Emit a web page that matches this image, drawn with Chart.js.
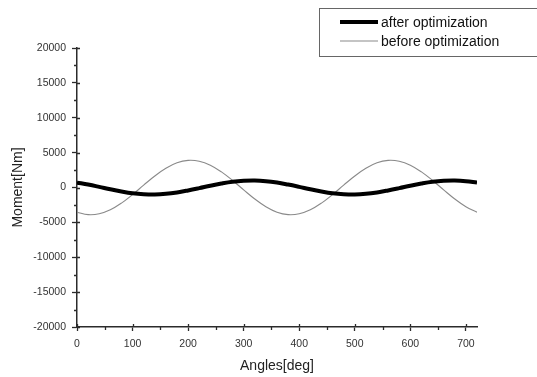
<!DOCTYPE html>
<html>
<head>
<meta charset="utf-8">
<title>Moment vs angle</title>
<script src="https://cdn.jsdelivr.net/npm/chart.js@4.4.1/dist/chart.umd.min.js"></script>
<style>
  html, body { margin: 0; padding: 0; background: #fff; }
  #wrap { width: 537px; height: 377px; }
</style>
</head>
<body>
<div id="wrap"><canvas id="moment-chart" width="537" height="377"></canvas></div>
<script>
// Crank angle samples (deg)
const angles = [0, 20, 40, 60, 80, 100, 120, 140, 160, 180, 200, 220, 240, 260, 280, 300, 320, 340, 360,
  380, 400, 420, 440, 460, 480, 500, 520, 540, 560, 580, 600, 620, 640, 660, 680, 700, 720];

// Moment after optimization (Nm)
const afterOpt = [700, 420, 90, -260, -570, -820, -960, -1000, -910, -710, -420, -90, 260, 570, 820, 960, 1000, 910, 710,
  420, 90, -260, -570, -820, -960, -1000, -910, -710, -420, -90, 260, 570, 820, 960, 1000, 910, 700];

// Moment before optimization (Nm)
const beforeOpt = [-3540, -3890, -3770, -3200, -2240, -1010, 340, 1650, 2760, 3540, 3890, 3770, 3200, 2240, 1010, -340, -1650, -2760, -3540,
  -3890, -3770, -3200, -2240, -1010, 340, 1650, 2760, 3540, 3890, 3770, 3200, 2240, 1010, -340, -1650, -2760, -3540];

const seriesNames = ['after optimization', 'before optimization'];

// Axis ticks: majors get labels, the in-between ones are minor marks
const xTicks = [0, 50, 100, 150, 200, 250, 300, 350, 400, 450, 500, 550, 600, 650, 700];
const xMajor = [0, 100, 200, 300, 400, 500, 600, 700];
const yTicks = [-20000, -17500, -15000, -12500, -10000, -7500, -5000, -2500, 0, 2500, 5000, 7500, 10000, 12500, 15000, 17500, 20000];
const yMajor = [-20000, -15000, -10000, -5000, 0, 5000, 10000, 15000, 20000];

const FONT = "'Liberation Sans', Arial, Helvetica, sans-serif";
const AXIS_COLOR = '#2b2b2b';

function isMajor(scale, v) {
  return (scale.axis === 'x' ? xMajor : yMajor).includes(v);
}

// short minor ticks plus the inner half of the major ticks
const tickMarks = {
  id: 'tickMarks',
  afterDraw(chart) {
    const ctx = chart.ctx;
    const xs = chart.scales.x, ys = chart.scales.y;
    ctx.save();
    ctx.strokeStyle = AXIS_COLOR;
    ctx.lineWidth = 1.3;
    ctx.beginPath();
    xTicks.forEach(v => {
      const px = Math.round(xs.getPixelForValue(v)) + 0.5;
      const y0 = ys.bottom;
      if (isMajor(xs, v)) { ctx.moveTo(px, y0); ctx.lineTo(px, y0 - 3); }
      else { ctx.moveTo(px, y0); ctx.lineTo(px, y0 + 3); }
    });
    yTicks.forEach(v => {
      const py = Math.round(ys.getPixelForValue(v)) + 0.5;
      const x0 = xs.left;
      if (isMajor(ys, v)) { ctx.moveTo(x0, py); ctx.lineTo(x0 + 3, py); }
      else { ctx.moveTo(x0, py); ctx.lineTo(x0 - 3, py); }
    });
    ctx.stroke();
    ctx.restore();
  }
};

// boxed legend in the upper right corner
const boxLegend = {
  id: 'boxLegend',
  afterDraw(chart) {
    const ctx = chart.ctx;
    ctx.save();
    ctx.strokeStyle = '#666';
    ctx.lineWidth = 1;
    ctx.strokeRect(319.5, 8.5, 240, 48);
    ctx.font = '14px ' + FONT;
    ctx.fillStyle = '#111';
    ctx.textBaseline = 'middle';
    chart.data.datasets.forEach((ds, i) => {
      const y = 22 + i * 19;
      ctx.strokeStyle = ds.borderColor;
      ctx.lineWidth = ds.borderWidth;
      ctx.beginPath();
      ctx.moveTo(340, y);
      ctx.lineTo(378, y);
      ctx.stroke();
      ctx.fillText(ds.label, 381, y + 1);
    });
    ctx.restore();
  }
};

const ctx = document.getElementById('moment-chart').getContext('2d');
const momentChart = new Chart(ctx, {
  type: 'line',
  data: {
    labels: angles,
    datasets: [
      {
        label: seriesNames[0],
        data: angles.map((a, i) => ({ x: a, y: afterOpt[i] })),
        borderColor: '#000',
        borderWidth: 4,
        pointRadius: 0,
        tension: 0.4,
        fill: false,
      },
      {
        label: seriesNames[1],
        data: angles.map((a, i) => ({ x: a, y: beforeOpt[i] })),
        borderColor: '#8a8a8a',
        borderWidth: 1.1,
        pointRadius: 0,
        tension: 0.4,
        fill: false,
      },
    ],
  },
  options: {
    responsive: false,
    animation: false,
    devicePixelRatio: 1,
    layout: { padding: { top: 48, right: 60, left: 0, bottom: 0 } },
    plugins: {
      legend: { display: false },
      tooltip: { enabled: false },
    },
    scales: {
      x: {
        type: 'linear',
        min: 0,
        max: 720,
        afterBuildTicks: (scale) => { scale.ticks = xTicks.map(v => ({ value: v })); },
        afterFit: (scale) => { scale.height = 50; },
        ticks: {
          autoSkip: false,
          maxRotation: 0,
          padding: 7,
          color: '#333',
          font: { family: FONT, size: 10.5 },
          callback: (v) => xMajor.includes(v) ? String(v) : '',
        },
        grid: {
          drawOnChartArea: false,
          drawTicks: true,
          tickLength: 4,
          tickWidth: 1.3,
          tickColor: (c) => xMajor.includes(c.tick && c.tick.value) ? AXIS_COLOR : 'rgba(0,0,0,0)',
        },
        border: { display: true, color: AXIS_COLOR, width: 1.5 },
        title: {
          display: true,
          text: 'Angles[deg]',
          color: '#222',
          font: { family: FONT, size: 14 },
          padding: { top: 0, bottom: 2 },
        },
      },
      y: {
        type: 'linear',
        min: -20000,
        max: 20000,
        afterBuildTicks: (scale) => { scale.ticks = yTicks.map(v => ({ value: v })); },
        afterFit: (scale) => { scale.width = 77; },
        ticks: {
          autoSkip: false,
          padding: 6,
          color: '#333',
          font: { family: FONT, size: 10.5 },
          callback: (v) => yMajor.includes(v) ? String(v) : '',
        },
        grid: {
          drawOnChartArea: false,
          drawTicks: true,
          tickLength: 5,
          tickWidth: 1.3,
          tickColor: (c) => yMajor.includes(c.tick && c.tick.value) ? AXIS_COLOR : 'rgba(0,0,0,0)',
        },
        border: { display: true, color: AXIS_COLOR, width: 1.5 },
        title: {
          display: true,
          text: 'Moment[Nm]',
          color: '#222',
          font: { family: FONT, size: 14 },
          padding: { top: 10, bottom: 0 },
        },
      },
    },
  },
  plugins: [tickMarks, boxLegend],
});
</script>
</body>
</html>
